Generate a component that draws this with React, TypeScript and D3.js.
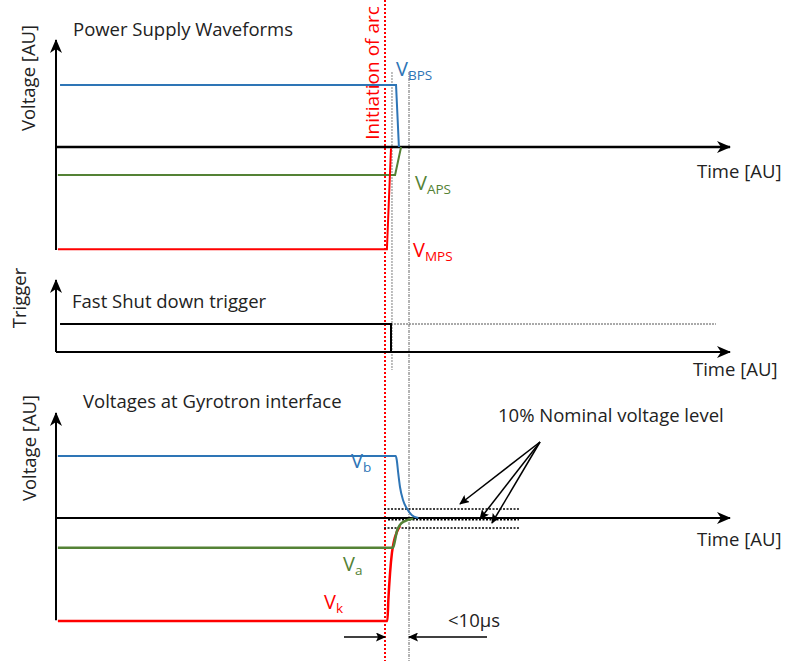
import React from 'react';
import * as d3 from 'd3';

const W = 785, H = 661;

// time in µs relative to arc initiation, voltage in nominal units
const psBlue: [number, number][] = [[-135.4, 1], [4.6, 1], [5.8, 0]];
const psGreen: [number, number][] = [[-136.3, -0.45], [4.2, -0.45], [6.7, 0]];
const psRed: [number, number][] = [[-136.3, -1.65], [0.8, -1.65], [2.5, -0.02]];
const trigger: [number, number][] = [[-135.4, 1], [2.5, 1], [2.5, 0]];
const triggerRest: [number, number][] = [[2.5, 1], [137.9, 1]];
const gyBlue: [number, number][] = [[-136.3, 1], [4.5, 1], [4.9, 0.935], [5.5, 0.726], [6.25, 0.5], [7.5, 0.29], [9.0, 0.16], [11.1, 0.05], [13.9, 0]];
const gyGreen: [number, number][] = [[-136.3, -0.48], [3.3, -0.48], [4.2, -0.355], [4.9, -0.22], [6.25, -0.11], [8.3, -0.05], [11.8, -0.01]];
const gyRed: [number, number][] = [[-136.3, -1.66], [1.0, -1.66], [1.4, -1.32], [2.1, -0.89], [2.9, -0.56], [3.75, -0.37], [4.9, -0.23], [6.25, -0.13]];
const levels10 = [
  { v: 0.145, t0: -0.4, t1: 55.8 },
  { v: -0.03, t0: 1.25, t1: 55.8 },
  { v: -0.16, t0: -0.4, t1: 55.8 },
];
const arcT = 0;
const grey1T = 2.9;
const grey2T = 10;

const BLUE = '#2E75B6';
const GREEN = '#548235';
const RED = '#FF0000';
const FONT = '"Open Sans", Lato, sans-serif';

const x = d3.scaleLinear().domain([0, 10]).range([385, 409]);
const y1 = d3.scaleLinear().domain([0, 1]).range([147, 85]);
const y2 = d3.scaleLinear().domain([0, 1]).range([352, 324]);
const y3 = d3.scaleLinear().domain([0, 1]).range([518, 456]);

const tStart = x.invert(56);
const tEnd = x.invert(730);

function mk(ys: d3.ScaleLinear<number, number>, curve: d3.CurveFactory = d3.curveLinear) {
  return d3.line<[number, number]>().x(d => x(d[0])).y(d => ys(d[1])).curve(curve);
}

const Sub = ({ px, py, main, sub, color }: { px: number; py: number; main: string; sub: string; color: string }) => (
  <text x={px} y={py} fill={color} fontFamily={FONT} fontSize={20}>
    {main}
    <tspan fontSize={13.5} dy={4}>{sub}</tspan>
  </text>
);

export default function App() {
  const lineP1 = mk(y1);
  const lineP2 = mk(y2);
  const lineP3 = mk(y3, d3.curveMonotoneX);
  const txt = { fontFamily: FONT, fontSize: 18.5, fill: '#222' } as const;
  return (
    <svg width={W} height={H} style={{ position: 'absolute', left: 0, top: 0, background: '#fff' }}>
      <defs>
        <marker id="ah" viewBox="0 0 14 12" refX="13" refY="6" markerWidth="14" markerHeight="12" markerUnits="userSpaceOnUse" orient="auto">
          <path d="M0,0 L14,6 L0,12 L4,6 Z" fill="#000" />
        </marker>
        <marker id="ahs" viewBox="0 0 10 9" refX="9" refY="4.5" markerWidth="10" markerHeight="9" markerUnits="userSpaceOnUse" orient="auto">
          <path d="M0,0 L10,4.5 L0,9 L2,4.5 Z" fill="#000" />
        </marker>
      </defs>

      {/* vertical guides */}
      <line x1={x(arcT)} x2={x(arcT)} y1={0} y2={H} stroke={RED} strokeWidth={2} strokeDasharray="2,2" />
      <line x1={x(grey1T)} x2={x(grey1T)} y1={72} y2={370} stroke="#aaa" strokeWidth={1.5} strokeDasharray="2,1" />
      <line x1={x(grey2T)} x2={x(grey2T)} y1={72} y2={H} stroke="#666" strokeWidth={1} strokeDasharray="3,1,1,1" />

      {/* Panel 1 */}
      <line x1={x(tStart)} x2={x(tStart)} y1={y1(-1.66)} y2={40} stroke="#000" strokeWidth={2} markerEnd="url(#ah)" />
      <line x1={x(tStart)} x2={x(tEnd)} y1={y1(0)} y2={y1(0)} stroke="#000" strokeWidth={2.5} markerEnd="url(#ah)" />
      <path d={lineP1(psBlue) || ''} fill="none" stroke={BLUE} strokeWidth={2} />
      <path d={lineP1(psGreen) || ''} fill="none" stroke={GREEN} strokeWidth={2} />
      <path d={lineP1(psRed) || ''} fill="none" stroke={RED} strokeWidth={2} />
      <text x={73} y={36} {...txt}>Power Supply Waveforms</text>
      <text transform="translate(35,78) rotate(-90)" textAnchor="middle" {...txt}>Voltage [AU]</text>
      <text x={697} y={178} {...txt}>Time [AU]</text>
      <text transform="translate(379,73) rotate(-90)" textAnchor="middle" fontFamily={FONT} fontSize={19} fill={RED}>Initiation of arc</text>
      <Sub px={396} py={76} main="V" sub="BPS" color={BLUE} />
      <Sub px={415} py={190} main="V" sub="APS" color={GREEN} />
      <Sub px={413} py={257} main="V" sub="MPS" color={RED} />

      {/* Panel 2 */}
      <line x1={x(tStart)} x2={x(tStart)} y1={y2(0)} y2={280} stroke="#000" strokeWidth={2} markerEnd="url(#ah)" />
      <line x1={x(tStart)} x2={x(tEnd)} y1={y2(0)} y2={y2(0)} stroke="#000" strokeWidth={2} markerEnd="url(#ah)" />
      <path d={lineP2(triggerRest) || ''} fill="none" stroke="#555" strokeWidth={1} strokeDasharray="2,1" />
      <path d={lineP2(trigger) || ''} fill="none" stroke="#000" strokeWidth={2} />
      <text x={72} y={308} {...txt}>Fast Shut down trigger</text>
      <text transform="translate(26,298) rotate(-90)" textAnchor="middle" {...txt}>Trigger</text>
      <text x={693} y={376} {...txt}>Time [AU]</text>

      {/* Panel 3 */}
      <line x1={x(tStart)} x2={x(tStart)} y1={y3(-1.65)} y2={413} stroke="#000" strokeWidth={2} markerEnd="url(#ah)" />
      <line x1={x(tStart)} x2={x(tEnd)} y1={y3(0)} y2={y3(0)} stroke="#000" strokeWidth={2} markerEnd="url(#ah)" />
      {levels10.map((l, i) => (
        <line key={i} x1={x(l.t0)} x2={x(l.t1)} y1={y3(l.v)} y2={y3(l.v)} stroke="#000" strokeWidth={1.5} strokeDasharray="2,1.5" />
      ))}
      <path d={lineP3(gyBlue) || ''} fill="none" stroke={BLUE} strokeWidth={2} />
      <path d={lineP3(gyRed) || ''} fill="none" stroke={RED} strokeWidth={2.5} />
      <path d={lineP3(gyGreen) || ''} fill="none" stroke={GREEN} strokeWidth={2.5} />
      <text x={83} y={408} {...txt}>Voltages at Gyrotron interface</text>
      <text transform="translate(36,448) rotate(-90)" textAnchor="middle" {...txt}>Voltage [AU]</text>
      <text x={697} y={546} {...txt}>Time [AU]</text>
      <Sub px={351} py={468} main="V" sub="b" color={BLUE} />
      <Sub px={343} py={571} main="V" sub="a" color={GREEN} />
      <Sub px={324} py={609} main="V" sub="k" color={RED} />

      {/* 10% annotation */}
      <text x={498} y={422} {...txt}>10% Nominal voltage level</text>
      <line x1={540} y1={442} x2={460} y2={504} stroke="#000" strokeWidth={1.5} markerEnd="url(#ahs)" />
      <line x1={540} y1={442} x2={480} y2={519} stroke="#000" strokeWidth={1.5} markerEnd="url(#ahs)" />
      <line x1={540} y1={442} x2={492} y2={523} stroke="#000" strokeWidth={1.5} markerEnd="url(#ahs)" />

      {/* <10µs */}
      <line x1={344} x2={x(arcT)} y1={637} y2={637} stroke="#000" strokeWidth={1.5} markerEnd="url(#ahs)" />
      <line x1={487} x2={x(grey2T)} y1={637} y2={637} stroke="#000" strokeWidth={1.5} markerEnd="url(#ahs)" />
      <text x={448} y={627} {...txt}>{'<10\u00B5s'}</text>
    </svg>
  );
}
